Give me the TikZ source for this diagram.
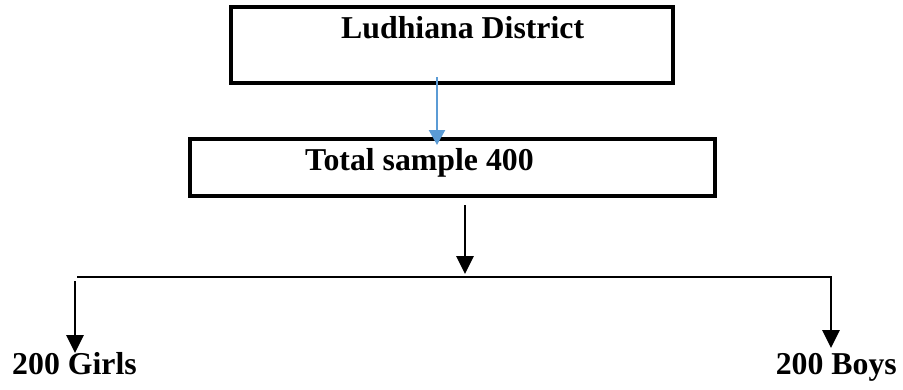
\documentclass[tikz,border=0pt]{standalone}
\usepackage{fontspec}
\setmainfont{Liberation Serif}
\usetikzlibrary{arrows.meta}
\definecolor{arrowblue}{HTML}{5B9BD5}
\begin{document}
\begin{tikzpicture}[x=1pt,y=-1pt,
  boxstyle/.style={draw=black,line width=3.2pt,inner sep=0pt},
  lbl/.style={font=\fontsize{31.8}{36}\selectfont\bfseries,inner sep=0pt},
  blkarrow/.style={line width=2.8pt,-{Triangle[width=17pt,length=18pt]}},
  bluearrow/.style={draw=arrowblue,line width=2.4pt,-{Triangle[width=16pt,length=15pt]}},
  hline/.style={line width=2.2pt}]
\useasboundingbox (0,0) rectangle (903,389);
% boxes
\draw[boxstyle] (231,7) rectangle (673,83);
\node[inner sep=0pt] (topbox) at (452,45) {};
\draw[boxstyle] (190,139) rectangle (715,196);
\node[inner sep=0pt] (midbox) at (452.5,167.5) {};
% texts
\node[lbl,anchor=base west] (ludhiana) at (341,38) {Ludhiana District};
\node[lbl,anchor=base west] (total) at (305,170) {Total sample 400};
\node[lbl,anchor=base west] (girls) at (12,374) {200 Girls};
\node[lbl,anchor=base east] (boys) at (897,374) {200 Boys};
% connectors
\coordinate (b1) at (437,77);
\coordinate (b2) at (437,145);
\draw[bluearrow] (b1) -- (b2);
\coordinate (m1) at (465,205);
\coordinate (m2) at (465,274);
\draw[blkarrow] (m1) -- (m2);
\coordinate (hl) at (77,277);
\coordinate (hr) at (832,277);
\draw[hline] (hl) -- (hr);
\coordinate (g1) at (75,281);
\coordinate (g2) at (75,353);
\draw[blkarrow] (g1) -- (g2);
\coordinate (r1) at (831,276);
\coordinate (r2) at (831,348);
\draw[blkarrow] (r1) -- (r2);
\end{tikzpicture}
\end{document}
